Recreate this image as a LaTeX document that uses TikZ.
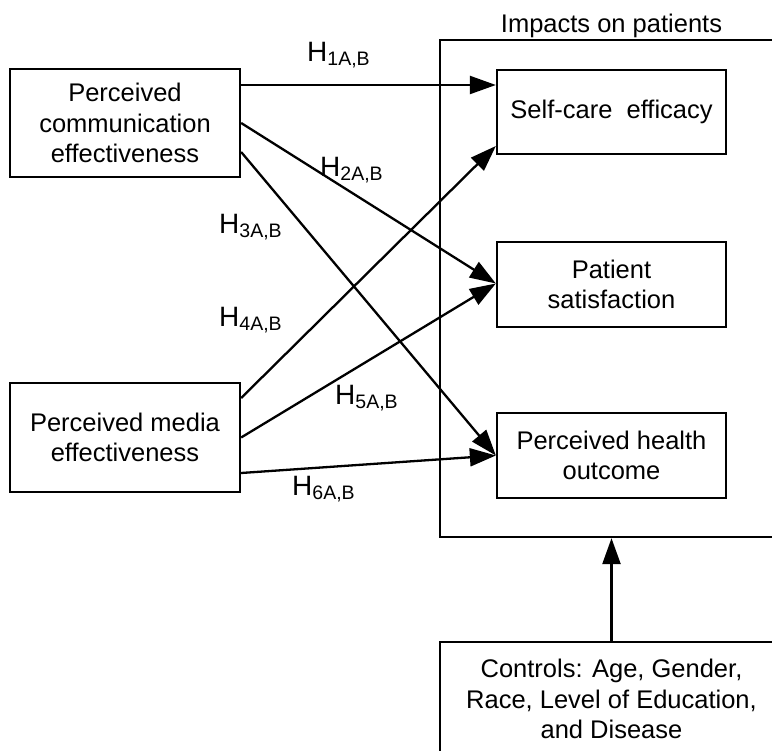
\documentclass[tikz,border=0pt]{standalone}
\usepackage{fontspec}
\setmainfont{Liberation Sans}
\usetikzlibrary{arrows.meta}
\newcommand{\hyplbl}[1]{H\raisebox{-3.5pt}{\fontsize{19.5}{19.5}\selectfont #1A,B}}
\begin{document}
\begin{tikzpicture}[x=1pt,y=1pt,
  box/.style={draw, line width=2.3pt, align=center, inner sep=0pt,
              font=\fontsize{25.5}{30.5}\selectfont},
  conn/.style={line width=2.3pt, -{Triangle[length=26pt,width=18pt]}},
  hyplab/.style={anchor=base west, inner sep=0pt, font=\fontsize{28}{30}\selectfont},
  titlelab/.style={anchor=base, inner sep=0pt, font=\fontsize{25.5}{30.5}\selectfont}]
\clip (0,0) rectangle (772,-751);
\fill[white] (0,0) rectangle (772,-751);

% outer group box
\node[draw, line width=2.3pt, minimum width=343pt, minimum height=497pt, inner sep=0pt] (imp) at (611.5,-288.5) {};
\node[titlelab] (imptitle) at (611.5,-33) {Impacts on patients};

% predictors
\node[box, minimum width=230pt, minimum height=108pt] (pce) at (125,-123) {Perceived\\communication\\effectiveness};
\node[box, minimum width=230pt, minimum height=109pt] (pme) at (125,-437.5) {Perceived media\\effectiveness};

% outcomes
\node[box, minimum width=229pt, minimum height=84pt] (sce) at (611.5,-112) {Self-care\ \ efficacy};
\node[box, minimum width=229pt, minimum height=85pt] (pat) at (611.5,-284.5) {Patient\\satisfaction};
\node[box, minimum width=229pt, minimum height=85pt] (hlt) at (611.5,-455.5) {Perceived health\\outcome};

% controls
\node[box, anchor=north, minimum width=343pt, minimum height=114pt] (ctl) at (611.5,-641) {Controls: Age, Gender,\\Race, Level of Education,\\and Disease};

% connectors
\draw[conn] ([yshift=38pt]pce.east) -- ([yshift=27pt]sce.west);
\draw[conn] (pce.east) -- ([yshift=1pt]pat.west);
\draw[conn] ([yshift=-29pt]pce.east) -- (hlt.west);
\draw[conn] ([yshift=39.5pt]pme.east) -- ([yshift=-34pt]sce.west);
\draw[conn] (pme.east) -- ([yshift=1pt]pat.west);
\draw[conn] ([yshift=-35.5pt]pme.east) -- (hlt.west);
\draw[conn] (ctl.north) -- (imp.south);

% hypothesis labels
\node[hyplab] (h1) at (307,-62) {\hyplbl{1}};
\node[hyplab] (h2) at (320,-177) {\hyplbl{2}};
\node[hyplab] (h3) at (219,-234) {\hyplbl{3}};
\node[hyplab] (h4) at (219,-327) {\hyplbl{4}};
\node[hyplab] (h5) at (335,-405) {\hyplbl{5}};
\node[hyplab] (h6) at (292,-496) {\hyplbl{6}};
\end{tikzpicture}
\end{document}
